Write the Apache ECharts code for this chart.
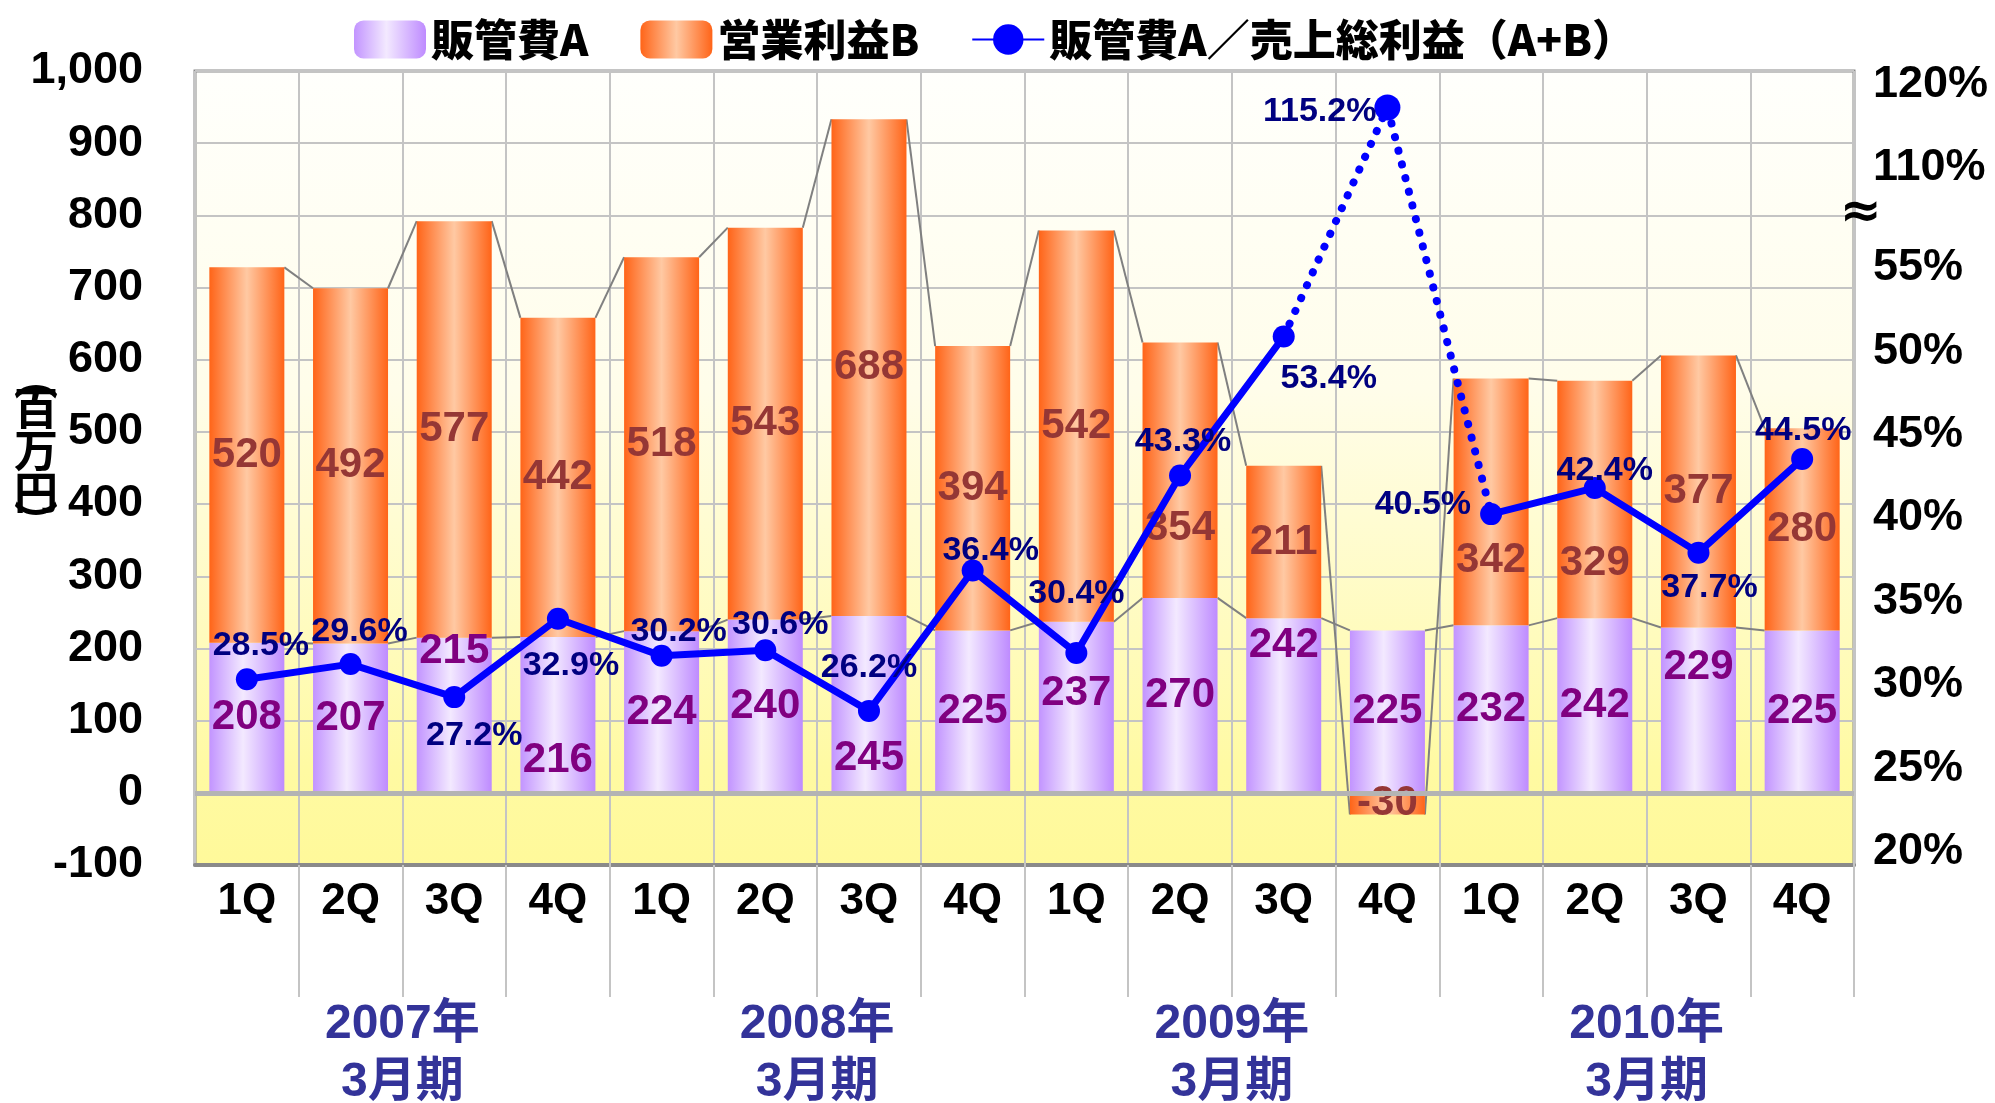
<!DOCTYPE html>
<html>
<head>
<meta charset="utf-8">
<title>販管費A／営業利益B</title>
<script src="https://cdn.jsdelivr.net/npm/echarts@6/dist/echarts.min.js"></script>
<style>
html, body { margin: 0; padding: 0; background: #fff; }
#chart { width: 1995px; height: 1103px; }
</style>
</head>
<body>
<div id="chart"></div>
<script>
// categories
const quarters = ['1Q', '2Q', '3Q', '4Q', '1Q', '2Q', '3Q', '4Q', '1Q', '2Q', '3Q', '4Q', '1Q', '2Q', '3Q', '4Q'];
const fiscalYears = ['2007年\n3月期', '2008年\n3月期', '2009年\n3月期', '2010年\n3月期'];

// 販管費A (百万円)
const sgaA = [208, 207, 215, 216, 224, 240, 245, 225, 237, 270, 242, 225, 232, 242, 229, 225];
// 営業利益B (百万円)
const profitB = [520, 492, 577, 442, 518, 543, 688, 394, 542, 354, 211, -30, 342, 329, 377, 280];
// 販管費A／売上総利益(A+B) (%)
const ratio = [28.5, 29.6, 27.2, 32.9, 30.2, 30.6, 26.2, 36.4, 30.4, 43.3, 53.4, 115.2, 40.5, 42.4, 37.7, 44.5];
const spikeIndex = 11; // 2009年3月期 4Q, drawn dotted over the break

// right axis tick labels (the axis is broken between 55% and 110%)
const rightTickValues = [20, 25, 30, 35, 40, 45, 50, 55, 61, 66];
const rightTickLabels = ['20%', '25%', '30%', '35%', '40%', '45%', '50%', '55%', '110%', '120%'];

const seriesNames = ['販管費A', '営業利益B', '販管費A／売上総利益（A+B）'];

// label nudges, kept apart from the data
const aLabelShift = [0, 0, -64, 46, 0, 0, 54, 0, -14, 0, -60, 0, 0, 0, -43, 0];
const bLabelShift = [0, 0, 0, 0, 0, 0, 0, 0, 0, 58, 0, 0, 58, 64, 0, 0];
const lineLabelPos = ['top', 'top', 'bottom', 'bottom', 'top', 'top', 'top', 'top', 'top', 'top', 'bottom', 'left', 'left', 'top', 'bottom', 'top'];
const lineLabelOffset = [[14, -1], [9, 1], [20, 6], [13, 14], [17, 9], [15, 7], [0, -10], [18, 13], [0, -26], [3, -1], [45, 9], [7, 4], [-4, -9], [10, 16], [11, 2], [1, 5]];

const BAR_W = 75;
const SANS = "'Liberation Sans', 'Noto Sans CJK JP', sans-serif";
const CJK = "'Noto Sans CJK JP', 'Liberation Sans', sans-serif";

const chart = echarts.init(document.getElementById('chart'));

const gradA = new echarts.graphic.LinearGradient(0, 0, 1, 0, [
  { offset: 0, color: '#c294ff' },
  { offset: 0.45, color: '#f3e9ff' },
  { offset: 1, color: '#be8bff' }
]);
const gradB = new echarts.graphic.LinearGradient(0, 0, 1, 0, [
  { offset: 0, color: '#ff6418' },
  { offset: 0.5, color: '#ffc9a3' },
  { offset: 1, color: '#ff6418' }
]);
const plotBg = new echarts.graphic.LinearGradient(0, 0, 0, 1, [
  { offset: 0, color: '#fffffc' },
  { offset: 0.4, color: '#fffdea' },
  { offset: 0.72, color: '#fffbbc' },
  { offset: 0.88, color: '#fffaa2' },
  { offset: 1, color: '#fff99a' }
]);

// series lines: from the right edge of one bar to the left edge of the next
const topOfB = profitB.map((b, i) => (b >= 0 ? sgaA[i] + b : b));
const connectors = [];
for (let i = 0; i < quarters.length - 1; i++) {
  connectors.push([i, sgaA[i], sgaA[i + 1]]);
  connectors.push([i, topOfB[i], topOfB[i + 1]]);
}

const solidRatio = ratio.map((v, i) => (i === spikeIndex ? null : {
  value: v,
  label: { position: lineLabelPos[i], offset: lineLabelOffset[i] }
}));
const dottedRatio = ratio.map((v, i) => (Math.abs(i - spikeIndex) <= 1 ? v : null));

const option = {
  animation: false,
  backgroundColor: '#ffffff',
  legend: {
    left: 349,
    top: 13,
    itemWidth: 72,
    itemHeight: 38,
    itemGap: 52,
    textStyle: { fontSize: 43, fontWeight: 900, fontFamily: CJK, color: '#000' },
    data: seriesNames
  },
  grid: {
    left: 195,
    right: 141,
    top: 71,
    bottom: 238,
    outerBoundsMode: 'none',
    show: true,
    borderColor: '#8a8a8a',
    borderWidth: 3,
    backgroundColor: plotBg
  },
  xAxis: [
    {
      type: 'category',
      data: quarters,
      position: 'bottom',
      axisLine: { onZero: false, lineStyle: { color: '#8a8a8a', width: 4 } },
      axisTick: { show: true, interval: i => i > 0, length: 132, lineStyle: { color: '#c4c4c4', width: 2 } },
      axisLabel: { interval: 0, margin: 15, fontSize: 44, fontWeight: 'bold', color: '#000', fontFamily: SANS },
      splitLine: { show: true, interval: 0, lineStyle: { color: '#c4c4c4', width: 2 } }
    },
    {
      type: 'category',
      data: fiscalYears,
      position: 'bottom',
      axisLine: { show: false },
      axisTick: { show: true, interval: i => i > 0, length: 163, lineStyle: { color: '#c4c4c4', width: 2 } },
      axisLabel: { interval: 0, margin: 131, fontSize: 48, lineHeight: 58, fontWeight: 'bold', color: '#333399', fontFamily: SANS },
      splitLine: { show: false }
    }
  ],
  yAxis: [
    {
      type: 'value',
      min: -100,
      max: 1000,
      interval: 100,
      position: 'left',
      axisLine: { show: false },
      axisTick: { show: false },
      axisLabel: {
        margin: 52, fontSize: 45, fontWeight: 'bold', color: '#000', fontFamily: SANS,
        formatter: v => v.toLocaleString('en-US')
      },
      splitLine: { lineStyle: { color: '#c4c4c4', width: 2 } }
    },
    {
      // label-only axis on the right
      type: 'value',
      min: 19.2,
      max: 66.8,
      interval: 0.2,
      position: 'right',
      axisLine: { show: false },
      axisTick: { show: false },
      splitLine: { show: false },
      axisLabel: {
        margin: 19, fontSize: 45, fontWeight: 'bold', color: '#000', fontFamily: SANS,
        formatter: v => {
          const k = rightTickValues.indexOf(Math.round(v * 10) / 10);
          return k >= 0 ? rightTickLabels[k] : '';
        }
      }
    },
    {
      // hidden scale of the ratio line
      type: 'value',
      show: false,
      min: 15,
      max: 117.85,
      breaks: [{ start: 58, end: 104, gap: 0.85 }],
      breakArea: { show: false },
      splitLine: { show: false }
    }
  ],
  graphic: [
    {
      // unit, written vertically
      type: 'text', x: 36, y: 450,
      style: {
        text: '{p|︵}\n{c|百}\n{c|万}\n{c|円}\n{p|︶}',
        fill: '#000', align: 'center', verticalAlign: 'middle',
        rich: {
          p: { fontSize: 44, fontWeight: 'bold', fontFamily: CJK, lineHeight: 18, align: 'center' },
          c: { fontSize: 44, fontWeight: 'bold', fontFamily: CJK, lineHeight: 42, align: 'center' }
        }
      }
    },
    {
      type: 'text', x: 1861, y: 214, z: 10,
      style: {
        text: '≈', fontSize: 50, fontWeight: 'bold', fontFamily: 'DejaVu Sans',
        fill: '#000', align: 'center', verticalAlign: 'middle'
      }
    }
  ],
  series: [
    {
      type: 'custom',
      xAxisIndex: 0,
      yAxisIndex: 0,
      silent: true,
      z: 1,
      data: connectors,
      encode: { x: 0, y: 1 },
      renderItem: (params, api) => {
        const i = api.value(0);
        const p1 = api.coord([i, api.value(1)]);
        const p2 = api.coord([i + 1, api.value(2)]);
        return {
          type: 'line',
          shape: { x1: p1[0] + BAR_W / 2, y1: p1[1], x2: p2[0] - BAR_W / 2, y2: p2[1] },
          style: { stroke: '#808080', lineWidth: 2 }
        };
      }
    },
    {
      name: seriesNames[0],
      type: 'bar',
      stack: 'total',
      barWidth: BAR_W,
      itemStyle: { color: gradA },
      data: sgaA.map((v, i) => ({ value: v, label: { offset: [0, aLabelShift[i]] } })),
      label: {
        show: true, position: 'inside', color: '#800080',
        fontSize: 42, fontWeight: 'bold', fontFamily: SANS
      },
      markLine: {
        silent: true,
        symbol: ['none', 'none'],
        label: { show: false },
        lineStyle: { color: '#b4b4b4', width: 5, type: 'solid' },
        data: [{ yAxis: 0 }]
      }
    },
    {
      name: seriesNames[1],
      type: 'bar',
      stack: 'total',
      barWidth: BAR_W,
      itemStyle: { color: gradB },
      data: profitB.map((v, i) => ({ value: v, label: { offset: [0, bLabelShift[i]] } })),
      label: {
        show: true, position: 'inside', color: '#953735',
        fontSize: 42, fontWeight: 'bold', fontFamily: SANS
      }
    },
    {
      name: seriesNames[2],
      type: 'line',
      yAxisIndex: 2,
      z: 5,
      data: solidRatio,
      symbol: 'circle',
      symbolSize: 22,
      itemStyle: { color: '#0000ff' },
      lineStyle: { color: '#0000ff', width: 7 },
      label: {
        show: true, color: '#000080', fontSize: 34, fontWeight: 'bold', fontFamily: SANS,
        formatter: p => Number(p.value).toFixed(1) + '%'
      }
    },
    {
      name: seriesNames[2],
      type: 'line',
      yAxisIndex: 2,
      z: 4,
      data: dottedRatio,
      symbol: 'circle',
      symbolSize: (v, p) => (p.dataIndex === spikeIndex ? 26 : 0),
      itemStyle: { color: '#0000ff' },
      lineStyle: { color: '#0000ff', width: 8, type: [0.1, 14], cap: 'round' },
      label: {
        show: true, position: 'left', offset: lineLabelOffset[spikeIndex],
        color: '#000080', fontSize: 34, fontWeight: 'bold', fontFamily: SANS,
        formatter: p => (p.dataIndex === spikeIndex ? p.value.toFixed(1) + '%' : '')
      }
    }
  ]
};

chart.setOption(option);
</script>
</body>
</html>
